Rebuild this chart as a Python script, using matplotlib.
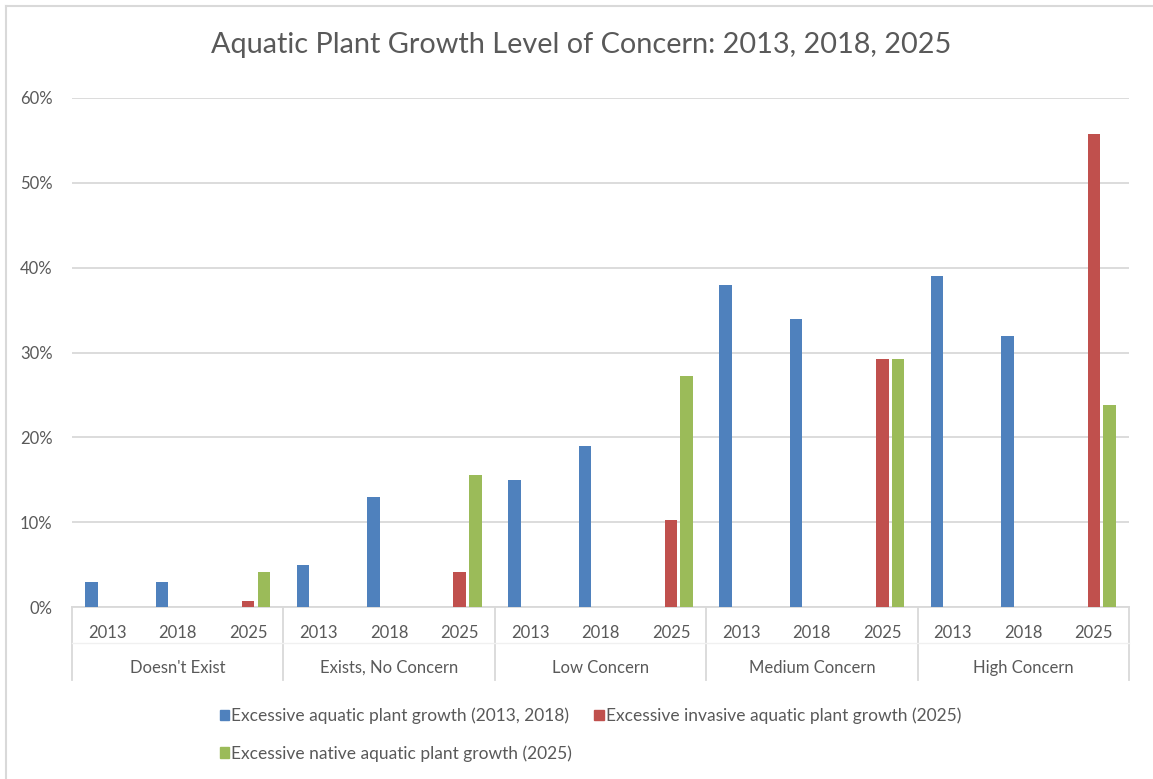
import numpy as np
import matplotlib
matplotlib.use("Agg")
import matplotlib.pyplot as plt
from matplotlib.lines import Line2D
from matplotlib.ticker import PercentFormatter

groups = ["Doesn't Exist", "Exists, No Concern", "Low Concern", "Medium Concern", "High Concern"]
years = ["2013", "2018", "2025"]

# blue: 2013, 2018 per group; red and green: 2025 per group
aquatic_2013_2018 = [[3, 3], [5, 13], [15, 19], [38, 34], [39, 32]]
invasive_2025 = [0.7, 4.1, 10.2, 29.2, 55.8]
native_2025 = [4.1, 15.6, 27.2, 29.2, 23.8]

series_names = [
    "Excessive aquatic plant growth (2013, 2018)",
    "Excessive invasive aquatic plant growth (2025)",
    "Excessive native aquatic plant growth (2025)",
]
colors = ["#4F81BD", "#C0504D", "#9BBB59"]
text_color = "#595959"
grid_color = "#D9D9D9"

plt.rcParams["font.family"] = ["Lato", "DejaVu Sans"]

n = len(groups) * len(years)
blue = np.full(n, np.nan)
red = np.full(n, np.nan)
green = np.full(n, np.nan)
for g in range(len(groups)):
    blue[g * 3] = aquatic_2013_2018[g][0]
    blue[g * 3 + 1] = aquatic_2013_2018[g][1]
    red[g * 3 + 2] = invasive_2025[g]
    green[g * 3 + 2] = native_2025[g]

fig = plt.figure(figsize=(11.53, 7.79), dpi=100)
ax = fig.add_axes([72 / 1153, 1 - 607 / 779, (1129 - 72) / 1153, (607 - 98) / 779])

x = np.arange(n)
slot = 0.223
width = 0.177
for i, vals in enumerate([blue, red, green]):
    mask = ~np.isnan(vals)
    ax.bar(x[mask] + (i - 1) * slot, vals[mask], width=width, color=colors[i], zorder=3)

ax.set_xlim(-0.5, n - 0.5)
ax.set_ylim(0, 60)
ax.set_yticks(np.arange(0, 61, 10))
ax.yaxis.set_major_formatter(PercentFormatter(decimals=0))
ax.grid(axis="y", color=grid_color, linewidth=1.3, zorder=0)
ax.tick_params(axis="y", length=0, pad=14, labelsize=12, labelcolor=text_color)

ax.set_xticks(x)
ax.set_xticklabels(years * len(groups))
ax.tick_params(axis="x", length=0, pad=13, labelsize=12, labelcolor=text_color)

for side in ["left", "right", "top"]:
    ax.spines[side].set_visible(False)
ax.spines["bottom"].set_color(grid_color)
ax.spines["bottom"].set_linewidth(1.3)

# multi-level category axis
trans = ax.get_xaxis_transform()
sep_bottom = -(680 - 607) / (607 - 98)
for b in np.arange(-0.5, n, 3):
    ax.add_line(Line2D([b, b], [0, sep_bottom], transform=trans, color=grid_color,
                       linewidth=1.3, clip_on=False))
mid = -(643 - 607) / (607 - 98)
ax.add_line(Line2D([-0.5, n - 0.5], [mid, mid], transform=trans, color="#F0F0F0",
                   linewidth=1.0, clip_on=False))
for g, name in enumerate(groups):
    ax.text(g * 3 + 1, -(668 - 607) / (607 - 98), name, transform=trans, ha="center",
            va="center", fontsize=12, color=text_color)

fig.text(0.504, 1 - 45 / 779, "Aquatic Plant Growth Level of Concern: 2013, 2018, 2025",
         ha="center", va="center", fontsize=20.8, color=text_color)

handles = [plt.Rectangle((0, 0), 1, 1, color=c) for c in colors]
order = [0, 2, 1]
fig.legend([handles[i] for i in order], [series_names[i] for i in order],
           loc="upper left", bbox_to_anchor=(204 / 1153, 1 - 692 / 779), ncol=2,
           frameon=False, fontsize=12.5, labelcolor=text_color, handlelength=0.55,
           handleheight=0.55, handletextpad=0.1, columnspacing=1.3, labelspacing=1.2)

# chart frame (top and left edges visible)
fig.add_artist(Line2D([5.5 / 1153, 1], [1 - 6 / 779, 1 - 6 / 779], transform=fig.transFigure,
                      color="#D9D9D9", linewidth=1.5))
fig.add_artist(Line2D([5.5 / 1153, 5.5 / 1153], [0, 1 - 6 / 779], transform=fig.transFigure,
                      color="#D9D9D9", linewidth=1.5))

fig.savefig("out.png", dpi=100)
